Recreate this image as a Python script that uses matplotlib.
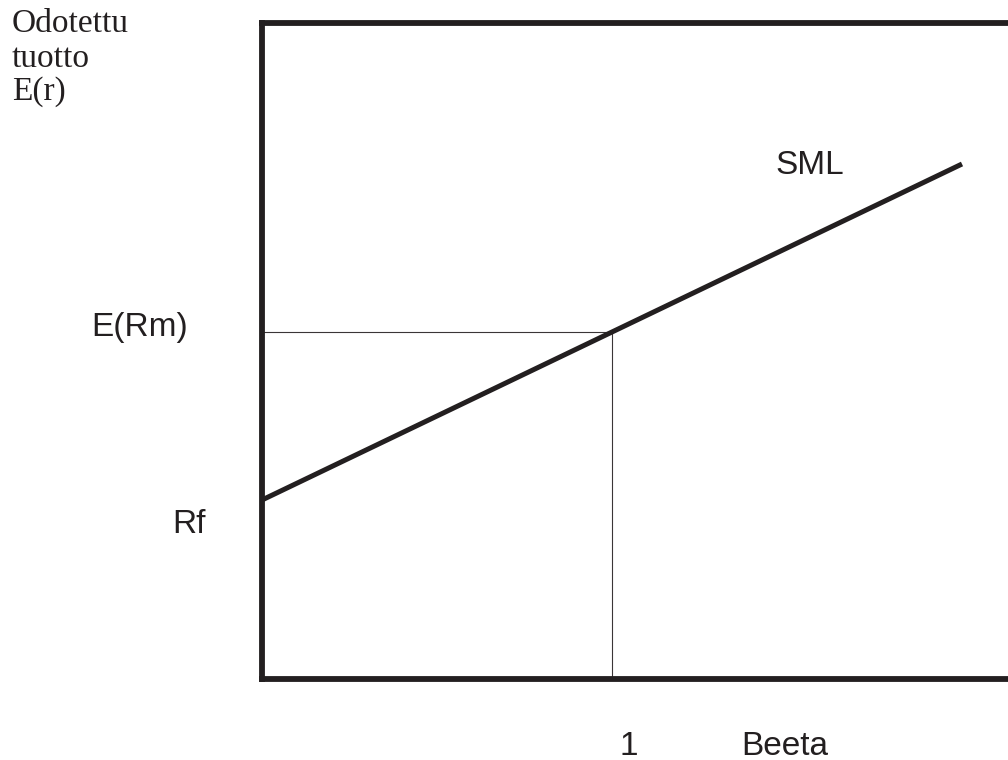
import matplotlib
matplotlib.use("Agg")
import matplotlib.pyplot as plt

# SML-kuvion arvot (beeta, odotettu tuotto), mitattu kuvasta
beeta = [0.0, 2.0]
tuotto = [1.79, 5.15]
beeta_m = 1.0
erm = 3.47

musta = "#231f20"
W, H = 1008, 760


def px(x, y):
    # pikselit -> kuvan koordinaatit
    return x / W, 1 - y / H


fig = plt.figure(figsize=(W / 100, H / 100), dpi=100)
vasen, ala = px(262, 679)
_, yla = px(262, 23)
ax = fig.add_axes([vasen, ala, 1040 / W - vasen, yla - ala])
ax.set_xlim(0, (1040 - 262) / 350)
ax.set_ylim(0, 6.56)
ax.set_xticks([])
ax.set_yticks([])
for s in ax.spines.values():
    s.set_linewidth(4.2)
    s.set_color(musta)

# apuviivat E(Rm) ja beeta = 1
ax.plot([0, beeta_m], [erm, erm], color="#3a3637", lw=0.8)
ax.plot([beeta_m, beeta_m], [0, erm], color="#3a3637", lw=0.8)
# SML
ax.plot(beeta, tuotto, color=musta, lw=3.6, solid_capstyle="butt")

sans = dict(family="Liberation Sans", fontsize=24, color=musta, va="baseline")
serif = dict(family="Liberation Serif", fontsize=24, color=musta, va="baseline")

fig.text(*px(775, 174), "SML", **sans)
fig.text(*px(91, 336), "E(Rm)", **sans)
fig.text(*px(172, 533), "Rf", **sans)
fig.text(*px(620, 755), "1", **sans)
fig.text(*px(741, 755), "Beeta", **sans)

fig.text(*px(12, 32), "Odotettu", **serif)
fig.text(*px(12, 67), "tuotto", **serif)
fig.text(*px(12, 100), "E(r)", **serif)

fig.savefig("out.png", dpi=100)
